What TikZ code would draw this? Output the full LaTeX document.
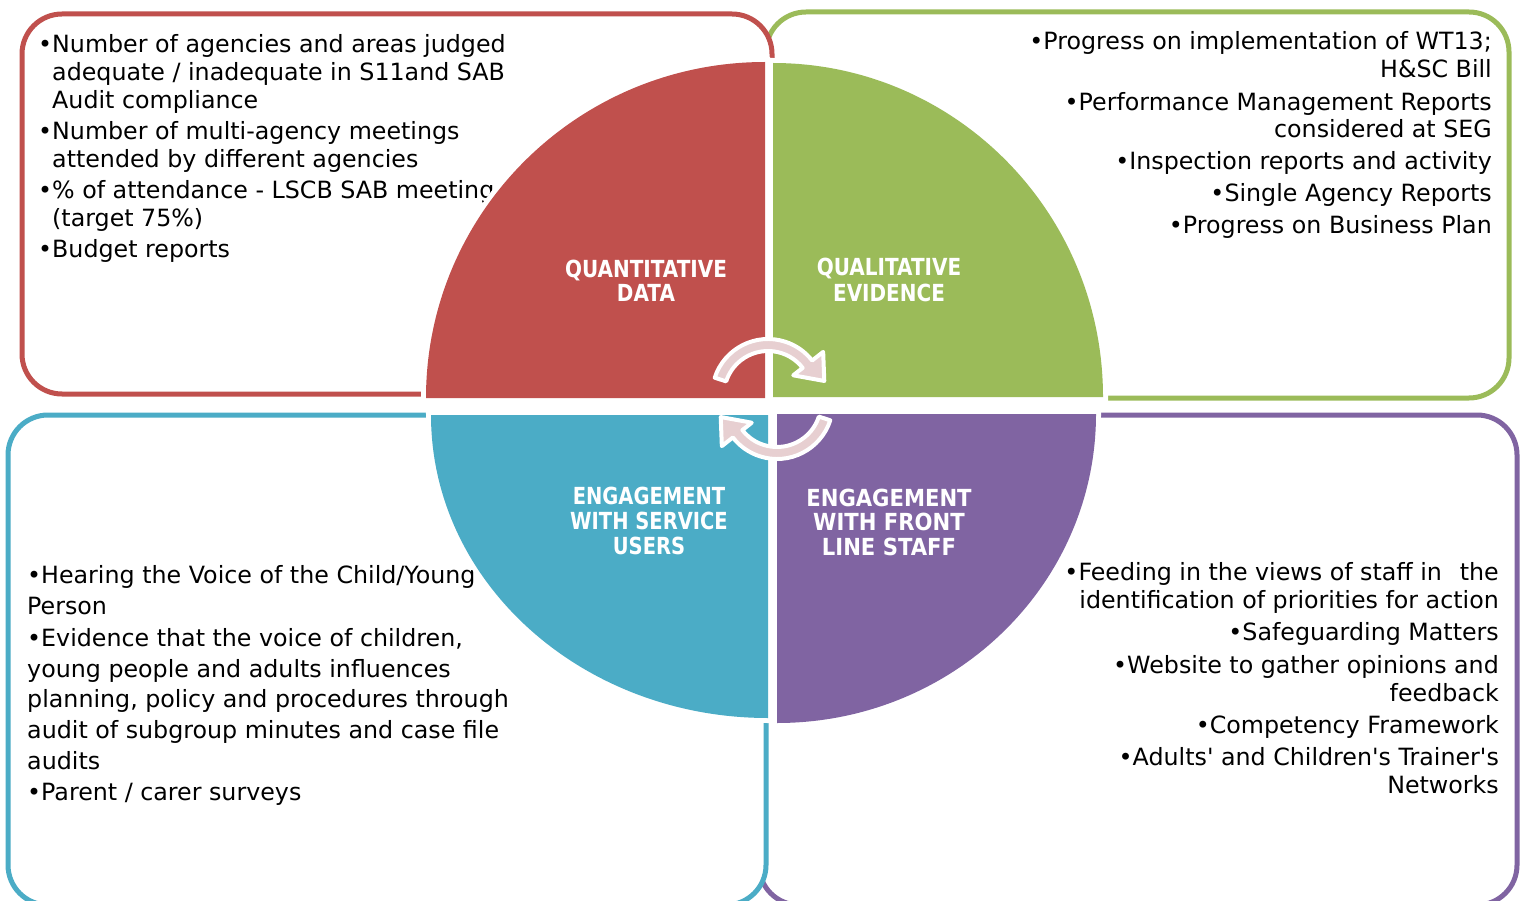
\documentclass[tikz,border=0pt]{standalone}
\usepackage{fontspec}
\usepackage{graphicx}
\setmainfont{DejaVu Sans}
\definecolor{cred}{HTML}{C0504D}
\definecolor{cgreen}{HTML}{9BBB59}
\definecolor{cblue}{HTML}{4BACC6}
\definecolor{cpurple}{HTML}{8064A2}
\definecolor{carrow}{HTML}{E7CFD1}
\newcommand\hsc[2]{\scalebox{#1}[1]{#2}}
\newcommand\ap{\textquotesingle}
\begin{document}
\begin{tikzpicture}[x=1pt,y=-1pt,
  box/.style={line width=5pt, fill=white, rounded corners=40pt},
  pie/.style={preaction={draw=white, line width=10pt}},
  body/.style={font=\fontsize{23.75}{28}\selectfont, inner sep=0pt, text=black},
  bl/.style={body, anchor=base west},
  br/.style={body, anchor=base east},
  head/.style={font=\fontsize{23.5}{24}\selectfont\bfseries, text=white, inner sep=0pt, anchor=base},
  arr/.style={fill=carrow, draw=white, line width=4pt, line join=round}
]
\useasboundingbox (0,0) rectangle (1525,901);

% boxes
\draw[box, draw=cgreen] (766,12) rectangle (1509,398);
\draw[box, draw=cred] (22,14) rectangle (772,394);
\draw[box, draw=cpurple] (759,415) rectangle (1517,905);
\draw[box, draw=cblue] (8,415) rectangle (766,905);

% red texts
\node[bl] (r1) at (52,53) {\llap{•}Number of agencies and areas judged};
\node[bl] (r2) at (52,81) {adequate / inadequate in S11and SAB};
\node[bl] (r3) at (52,109) {Audit compliance};
\node[bl] (r4) at (52,140) {\llap{•}Number of multi-agency meetings};
\node[bl] (r5) at (52,168) {attended by different agencies};
\node[bl] (r6) at (52,199) {\llap{•}\% of attendance - LSCB SAB meetings};
\node[bl] (r7) at (52,227) {(target 75\%)};
\node[bl] (r8) at (52,258) {\llap{•}Budget reports};

% green texts
\node[br] (g1) at (1492,50) {•Progress on implementation of WT13;};
\node[br] (g2) at (1492,78) {H\&SC Bill};
\node[br] (g3) at (1492,111) {•Performance Management Reports};
\node[br] (g4) at (1492,138) {considered at SEG};
\node[br] (g5) at (1492,170) {•Inspection reports and activity};
\node[br] (g6) at (1492,202) {•Single Agency Reports};
\node[br] (g7) at (1492,234) {•Progress on Business Plan};

% blue texts
\node[bl] (b1) at (27,583) {•Hearing the Voice of the Child/Young};
\node[bl] (b2) at (27,614) {Person};
\node[bl] (b3) at (27,646) {•Evidence that the voice of children,};
\node[bl] (b4) at (27,677) {young people and adults influences};
\node[bl] (b5) at (27,707) {planning, policy and procedures through};
\node[bl] (b6) at (27,738) {audit of subgroup minutes and case file};
\node[bl] (b7) at (27,769) {audits};
\node[bl] (b8) at (27,800) {•Parent / carer surveys};

% purple texts
\node[br] (p1) at (1499,580) {•Feeding in the views of staff in\hspace{0.75em}the};
\node[br] (p2) at (1499,608) {identification of priorities for action};
\node[br] (p3) at (1499,640) {•Safeguarding Matters};
\node[br] (p4) at (1499,673) {•Website to gather opinions and};
\node[br] (p5) at (1499,701) {feedback};
\node[br] (p6) at (1499,733) {•Competency Framework};
\node[br] (p7) at (1499,765) {•Adults\ap{} and Children\ap{}s Trainer\ap{}s};
\node[br] (p8) at (1499,793) {Networks};

% quarter discs
\fill[cred, pie] (765,398) -- (426,398) arc[start angle=180, end angle=270, x radius=339, y radius=336] -- cycle;
\fill[cgreen, pie] (773,397) -- (773,63) arc[start angle=270, end angle=360, x radius=330, y radius=334] -- cycle;
\fill[cblue, pie] (768,415) -- (431,415) arc[start angle=180, end angle=90, x radius=337, y radius=303] -- cycle;
\fill[cpurple, pie] (777,414) -- (1096,414) arc[start angle=0, end angle=90, x radius=319, y radius=309] -- cycle;

% headings
\node[head] (h1a) at (646,277) {\hsc{0.85}{QUANTITATIVE}};
\node[head] (h1b) at (646,301) {\hsc{0.85}{DATA}};
\node[head] (h2a) at (889,276) {\hsc{0.85}{QUALITATIVE}};
\node[head] (h2b) at (889,301) {\hsc{0.85}{EVIDENCE}};
\node[head] (h3a) at (649,504) {\hsc{0.83}{ENGAGEMENT}};
\node[head] (h3b) at (649,529) {\hsc{0.83}{WITH SERVICE}};
\node[head] (h3c) at (649,554) {\hsc{0.83}{USERS}};
\node[head] (h4a) at (889,506) {\hsc{0.9}{ENGAGEMENT}};
\node[head] (h4b) at (889,530) {\hsc{0.9}{WITH FRONT}};
\node[head] (h4c) at (889,555) {\hsc{0.9}{LINE STAFF}};

% circular arrows
\begin{scope}[shift={(768,395)}]
\draw[arr] (198:56) arc[start angle=198, end angle=322, radius=56] -- (322:70) -- (346:58) -- (322:32) -- (322:44) arc[start angle=322, end angle=198, radius=44] -- cycle;
\end{scope}
\begin{scope}[shift={(777,403)}]
\draw[arr] (18:56) arc[start angle=18, end angle=142, radius=56] -- (142:70) -- (166:58) -- (142:32) -- (142:44) arc[start angle=142, end angle=18, radius=44] -- cycle;
\end{scope}
\end{tikzpicture}
\end{document}
